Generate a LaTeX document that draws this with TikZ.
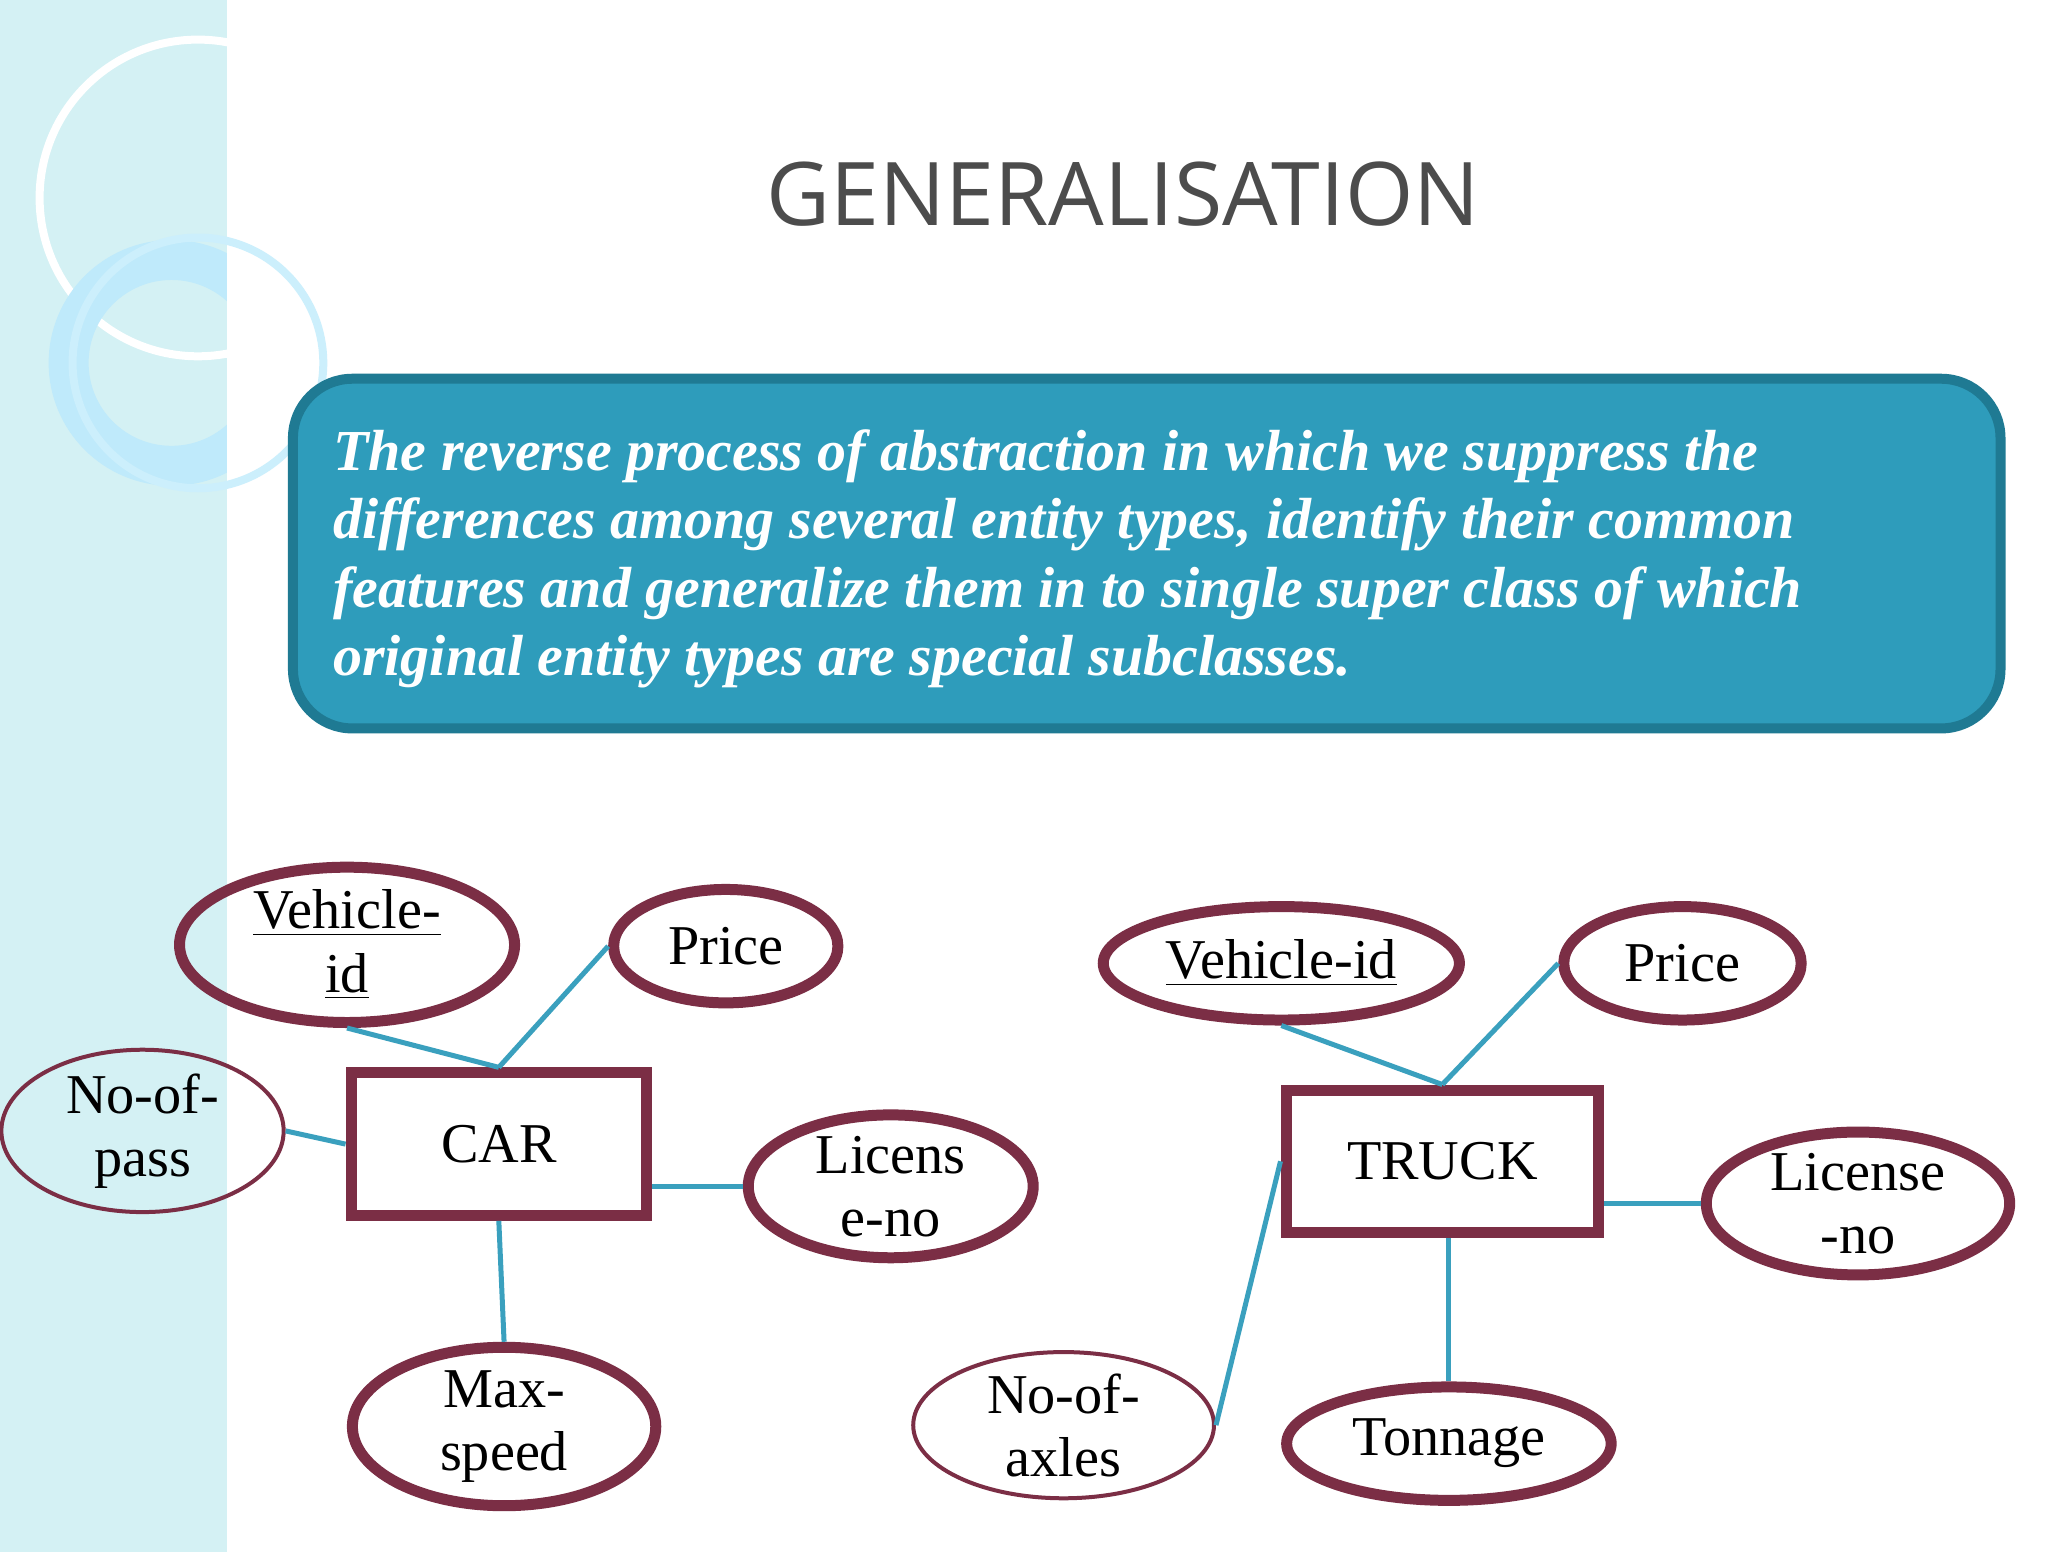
\documentclass[tikz,border=0pt]{standalone}
\usepackage{fontspec}
\setsansfont{Open Sans}
\newfontfamily\erfont{Liberation Serif}
\usetikzlibrary{shapes.geometric}
\definecolor{maroon}{HTML}{7B2E45}
\definecolor{teal2}{HTML}{3AA0BE}
\definecolor{boxfill}{HTML}{2E9CBB}
\definecolor{boxdraw}{HTML}{1F7A93}
\definecolor{side}{HTML}{D4F1F4}
\newdimen\ux \ux=0.3754pt
\begin{document}
\begin{tikzpicture}[x=0.013196cm,y=-0.013196cm,
  attr/.style={ellipse,draw=maroon,line width=1.1mm,inner sep=0pt,font=\erfont\fontsize{16}{18}\selectfont,align=center},
  thinattr/.style={attr,line width=0.4mm},
  ent/.style={rectangle,draw=maroon,line width=1.1mm,inner sep=0pt,font=\erfont\fontsize{16}{18}\selectfont},
  link/.style={teal2,line width=0.5mm}]
\useasboundingbox (0,0) rectangle (1552,1176);
\fill[white] (0,0) rectangle (1552,1176);
\fill[side] (0,0) rectangle (172,1176);
\begin{scope}
\clip (0,0) rectangle (172,1176);
\draw[white,line width=0.8mm] (150,150) circle (120);
\draw[cyan!25,line width=4mm] (130,275) circle (78);
\end{scope}
\draw[white!80!cyan,line width=0.8mm] (150,275) circle (95);
\node[font=\sffamily\fontsize{25}{30}\selectfont,text=black!70] (title) at (851,147) {GENERALISATION};
\draw[boxdraw,fill=boxfill,line width=1mm,rounded corners=45\ux] (222,287) rectangle (1516,552);
\node[anchor=north west,text=white,align=left,inner sep=0pt,font=\erfont\bfseries\itshape\fontsize{16.5}{19.5}\selectfont] (def) at (252,325)
{The reverse process of abstraction in which we suppress the\\
differences among several entity types, identify their common\\
features and generalize them in to single super class of which\\
original entity types are special subclasses.};
% CAR
\node[ent,minimum width=224\ux,minimum height=108\ux] (car) at (378,867) {CAR};
\node[attr,minimum width=254\ux,minimum height=86\ux] (cvid) at (263,716) {\underline{Vehicle-}\\\underline{id}};
\node[attr,minimum width=170\ux,minimum height=86\ux] (cprice) at (550,717) {Price};
\node[thinattr,minimum width=214\ux,minimum height=104\ux] (cpass) at (108,857) {No-of-\\pass};
\node[attr,minimum width=216\ux,minimum height=86\ux] (clic) at (675,899) {Licens\\e-no};
\node[attr,minimum width=230\ux,minimum height=86\ux] (cmax) at (382,1081) {Max-\\speed};
\draw[link] (car.north) -- (cvid.south);
\draw[link] (car.north) -- (cprice.west);
\draw[link] (car.west) -- (cpass.east);
\draw[link] (car.east |- clic.west) -- (clic.west);
\draw[link] (car.south) -- (cmax.north);
% TRUCK
\node[ent,minimum width=237\ux,minimum height=108\ux] (truck) at (1093,880) {TRUCK};
\node[attr,minimum width=270\ux,minimum height=86\ux] (tvid) at (971,730) {\underline{Vehicle-id}};
\node[attr,minimum width=180\ux,minimum height=86\ux] (tprice) at (1275,730) {Price};
\node[attr,minimum width=230\ux,minimum height=84\ux] (tlic) at (1408,912) {License\\-no};
\node[thinattr,minimum width=228\ux,minimum height=104\ux] (taxl) at (806,1080) {No-of-\\axles};
\node[attr,minimum width=246\ux,minimum height=86\ux] (tton) at (1098,1094) {Tonnage};
\draw[link] (truck.north) -- (tvid.south);
\draw[link] (truck.north) -- (tprice.west);
\draw[link] (truck.east |- tlic.west) -- (tlic.west);
\draw[link] (tton.north |- truck.south) -- (tton.north);
\draw[link] (truck.west) -- (taxl.east);
\end{tikzpicture}
\end{document}
